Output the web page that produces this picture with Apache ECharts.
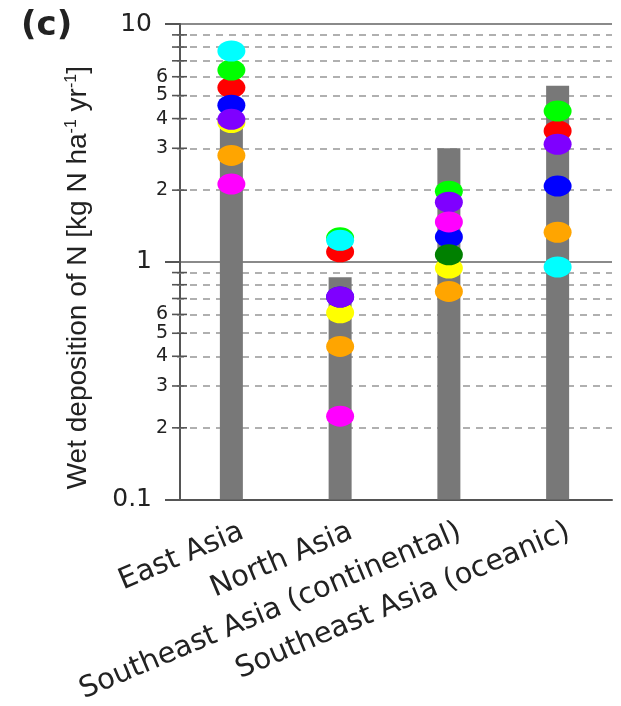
<!DOCTYPE html>
<html><head><meta charset="utf-8">
<script src="https://cdn.jsdelivr.net/npm/echarts@6/dist/echarts.min.js"></script>
<style>html,body{margin:0;padding:0;background:#fff}#c{width:621px;height:706px}</style>
</head><body><div id="c"></div>
<script>
// ---- data ----
const categories = ['East Asia', 'North Asia', 'Southeast Asia (continental)', 'Southeast Asia (oceanic)'];
const barTops = [3.75, 0.86, 3.0, 5.5];
const yellowVals = [3.85, 0.61, 0.94, null];
const redVals = [5.4, 1.10, null, 3.55];
const blueVals = [4.55, 0.71, 1.27, 2.08];
const greenVals = [6.4, 1.26, 1.98, 4.3];
const darkGreenVals = [null, null, 1.07, null];
const purpleVals = [3.97, 0.71, 1.78, 3.12];
const magentaVals = [2.12, 0.224, 1.47, null];
const orangeVals = [2.8, 0.44, 0.75, 1.33];
const cyanVals = [7.7, 1.23, null, 0.95];
const minorTickValues = [2, 3, 4, 5, 6, 7, 8, 9, 0.2, 0.3, 0.4, 0.5, 0.6, 0.7, 0.8, 0.9];
const minorLabelValues = [2, 3, 4, 5, 6, 0.2, 0.3, 0.4, 0.5, 0.6];
const minorLabelTexts = ['2', '3', '4', '5', '6', '2', '3', '4', '5', '6'];
const yTitle = 'Wet deposition of N [kg N ha{sup|-1} yr{sup|-1}]';
const panelLabel = '(c)';

const FONT = 'Liberation Sans, Arial, Helvetica, sans-serif';
const WIDE = 'DejaVu Sans, Verdana, sans-serif';
const dotSeries = [
  ['yellow', yellowVals, '#ffff00'],
  ['red', redVals, '#ff0000'],
  ['blue', blueVals, '#0000ff'],
  ['green', greenVals, '#00ff00'],
  ['darkgreen', darkGreenVals, '#008000'],
  ['purple', purpleVals, '#7f00ff'],
  ['magenta', magentaVals, '#ff00ff'],
  ['orange', orangeVals, '#ffa500'],
  ['cyan', cyanVals, '#00ffff']
];

const chart = echarts.init(document.getElementById('c'), null, {renderer: 'canvas'});
const series = [{
  type: 'bar',
  data: barTops,
  barWidth: 23,
  z: 2,
  itemStyle: {color: '#787878'},
  markLine: {
    silent: true, z: 1, symbol: 'none',
    label: {show: false},
    lineStyle: {type: [7, 6], color: '#969696', width: 1.5},
    data: minorTickValues.map(v => ({yAxis: v}))
  }
}];
dotSeries.forEach(([name, vals, color]) => {
  series.push({
    type: 'scatter', name: name, z: 3,
    data: vals.map(v => v == null ? '-' : v),
    symbol: 'circle', symbolSize: [28, 21],
    itemStyle: {color: color, opacity: 1}
  });
});

chart.setOption({
  animation: false,
  backgroundColor: '#fff',
  grid: {left: 177, right: 9, top: 24, bottom: 204},
  xAxis: {
    type: 'category', data: categories,
    axisLine: {lineStyle: {color: '#555', width: 2}},
    axisTick: {alignWithLabel: true, length: 11, lineStyle: {color: '#555', width: 2}},
    axisLabel: {rotate: 23, fontSize: 29, margin: 36, padding: [0, -12, 0, 0], color: '#222', interval: 0, fontFamily: WIDE},
    splitLine: {show: false}
  },
  yAxis: {
    type: 'log', logBase: 10, min: 0.1, max: 10, startValue: 0.1, offset: -3,
    axisLine: {show: true, lineStyle: {color: '#555', width: 2}},
    axisTick: {show: true, length: 15, lineStyle: {color: '#555', width: 2}},
    axisLabel: {fontSize: 25, color: '#222', margin: 28, fontFamily: WIDE},
    splitLine: {show: true, lineStyle: {color: '#8a8a8a', width: 2}},
    minorTick: {show: false},
    name: yTitle, nameLocation: 'middle', nameRotate: 90, nameGap: 88,
    nameTextStyle: {
      fontSize: 28, color: '#222', fontFamily: FONT, padding: [0, 32, 0, 0],
      rich: {sup: {fontSize: 16, verticalAlign: 'top', color: '#222', fontFamily: FONT}}
    }
  },
  series: series
});

const g = [{
  type: 'text', left: 21, top: 9,
  style: {text: panelLabel, font: 'bold 34px ' + WIDE, fill: '#222'}
}];
minorTickValues.forEach(v => {
  const y = chart.convertToPixel({yAxisIndex: 0}, v);
  g.push({type: 'line', z: 10, shape: {x1: 172, y1: y, x2: 187, y2: y}, style: {stroke: '#555', lineWidth: 1.6}});
});
minorLabelValues.forEach((v, i) => {
  const y = chart.convertToPixel({yAxisIndex: 0}, v);
  g.push({type: 'text', x: 168, y: y, style: {text: minorLabelTexts[i], align: 'right', verticalAlign: 'middle', font: '19px ' + WIDE, fill: '#222'}});
});
chart.setOption({graphic: g});
</script></body></html>
